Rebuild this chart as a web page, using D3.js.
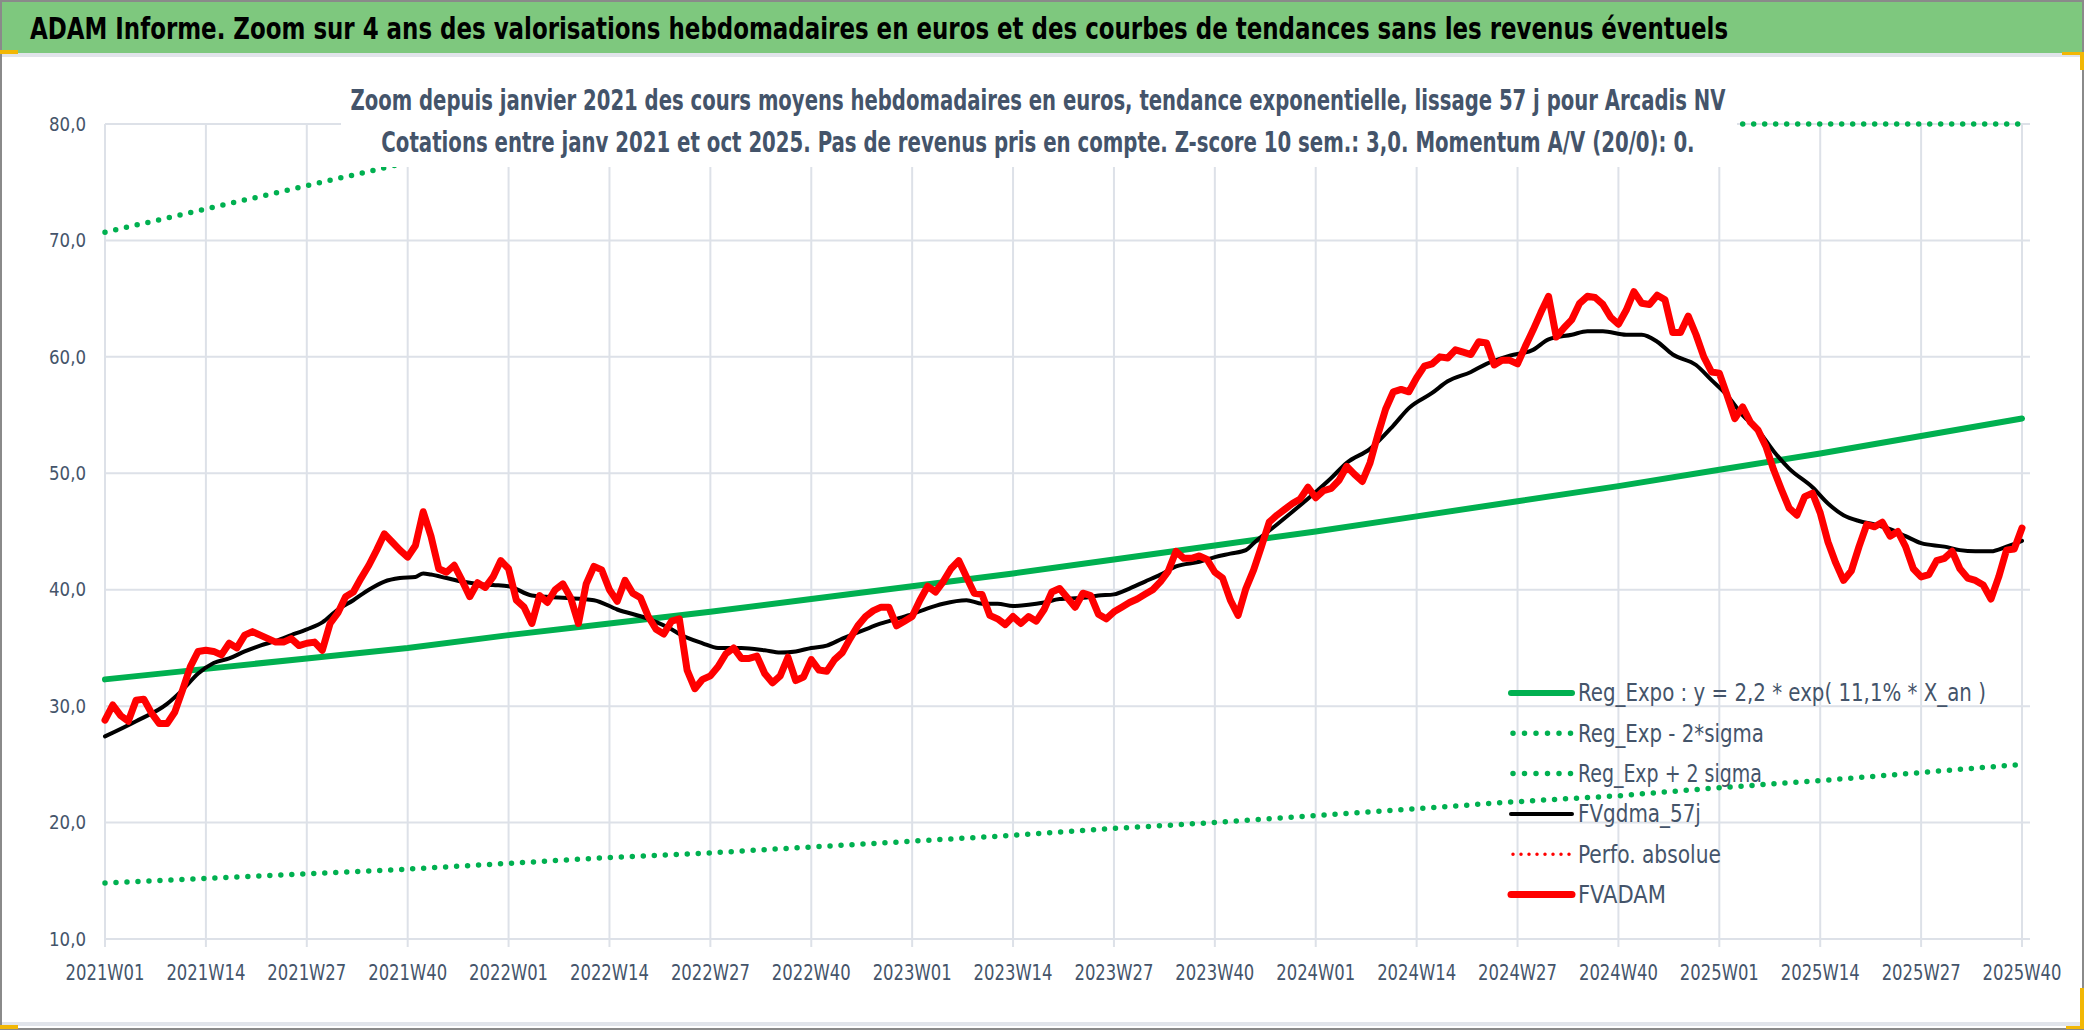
<!DOCTYPE html>
<html>
<head>
<meta charset="utf-8">
<script src="https://cdn.jsdelivr.net/npm/d3@7"></script>
<style>
	body { margin: 0; background: #fff; }
	svg text { font-family: "Liberation Sans Narrow", "DejaVu Sans Condensed", "Roboto", sans-serif; }
</style>
</head>
<body>
<svg id="chart" width="2086" height="1031"></svg>
<script>
// week index 0 = 2021W01, 247 = 2025W40
const tickWeeks = [0, 13, 26, 39, 52, 65, 78, 91, 104, 117, 130, 143, 156, 169, 182, 195, 208, 221, 234, 247];
const weekLabels = ["2021W01", "2021W14", "2021W27", "2021W40", "2022W01", "2022W14", "2022W27", "2022W40",
	"2023W01", "2023W14", "2023W27", "2023W40", "2024W01", "2024W14", "2024W27", "2024W40",
	"2025W01", "2025W14", "2025W27", "2025W40"];
const yTicks = [10, 20, 30, 40, 50, 60, 70, 80];

// FVADAM, weekly average price in euros
const fvadam = [
	28.8, 30.1, 29.2, 28.7, 30.5, 30.6, 29.4, 28.5, 28.5, 29.5, 31.4, 33.4, 34.7, 34.8, 34.7, 34.4,
	35.4, 35.0, 36.1, 36.4, 36.1, 35.8, 35.5, 35.5, 35.8, 35.2, 35.4, 35.5, 34.8, 37.1, 38.0, 39.4,
	39.8, 41.0, 42.1, 43.4, 44.8, 44.1, 43.4, 42.8, 43.8, 46.7, 44.6, 41.8, 41.5, 42.1, 40.8, 39.4,
	40.6, 40.2, 41.1, 42.5, 41.8, 39.1, 38.5, 37.1, 39.5, 38.9, 40.0, 40.5, 39.3, 37.1, 40.5, 42.0,
	41.7, 40.0, 39.0, 40.8, 39.7, 39.3, 37.7, 36.6, 36.2, 37.3, 37.5, 33.1, 31.5, 32.3, 32.6, 33.4,
	34.5, 35.0, 34.1, 34.1, 34.3, 32.8, 32.0, 32.6, 34.2, 32.2, 32.5, 34.0, 33.1, 33.0, 34.0, 34.6,
	35.8, 36.9, 37.7, 38.2, 38.5, 38.5, 36.9, 37.3, 37.7, 39.1, 40.3, 39.8, 40.7, 41.8, 42.5, 41.1,
	39.7, 39.6, 37.8, 37.5, 37.0, 37.7, 37.1, 37.7, 37.3, 38.3, 39.8, 40.1, 39.3, 38.5, 39.7, 39.5,
	37.9, 37.5, 38.1, 38.5, 38.9, 39.2, 39.6, 40.0, 40.7, 41.6, 43.3, 42.7, 42.7, 42.9, 42.6, 41.5,
	41.0, 39.1, 37.8, 40.1, 41.7, 43.7, 45.8, 46.4, 46.9, 47.4, 47.8, 48.8, 47.9, 48.5, 48.7, 49.4,
	50.6, 49.9, 49.3, 50.9, 53.3, 55.5, 57.0, 57.2, 57.0, 58.2, 59.2, 59.4, 60.0, 59.9, 60.6, 60.4,
	60.2, 61.3, 61.2, 59.3, 59.7, 59.7, 59.4, 60.9, 62.3, 63.8, 65.2, 61.7, 62.5, 63.2, 64.6, 65.2,
	65.1, 64.5, 63.4, 62.8, 64.0, 65.6, 64.6, 64.5, 65.3, 64.9, 62.1, 62.1, 63.5, 61.9, 60.0, 58.7,
	58.6, 56.7, 54.7, 55.7, 54.4, 53.7, 52.3, 50.3, 48.6, 47.0, 46.4, 48.0, 48.3, 46.6, 44.1, 42.3,
	40.8, 41.6, 43.7, 45.6, 45.4, 45.8, 44.6, 45.0, 43.7, 41.8, 41.1, 41.3, 42.5, 42.7, 43.3, 41.8,
	41.0, 40.8, 40.4, 39.2, 41.1, 43.4, 43.5, 45.3
];

// FVgdma_57j, smoothed curve read at these weeks
const smaWeeks = [0, 4, 8, 10, 12, 14, 16, 18, 20, 22, 24, 26, 28, 30, 32, 34, 36, 38, 40, 41, 42, 44, 46, 48, 50, 52,
	55, 59, 63, 66, 70, 73, 74, 77, 79, 82, 85, 87, 89, 91, 93, 95, 98, 100, 102, 104, 106, 108, 111, 113, 115,
	117, 119, 121, 123, 126, 128, 130, 132, 134, 136, 138, 141, 143, 145, 147, 148, 151, 153, 156, 158, 160, 163,
	166, 168, 171, 173, 176, 178, 181, 184, 186, 189, 191, 193, 196, 198, 200, 202, 205, 207, 209, 211, 213, 215,
	217, 220, 222, 224, 226, 228, 230, 232, 234, 237, 239, 241, 243, 245, 247];
const smaValues = [27.4, 28.7, 30.2, 31.4, 32.8, 33.7, 34.1, 34.7, 35.2, 35.6, 36.1, 36.6, 37.2, 38.3, 39.1, 40.0, 40.7,
	41.0, 41.1, 41.4, 41.3, 41.0, 40.7, 40.5, 40.4, 40.3, 39.5, 39.3, 39.1, 38.3, 37.5, 36.6, 36.2, 35.4, 35.0,
	35.0, 34.8, 34.6, 34.7, 35.0, 35.2, 35.8, 36.6, 37.1, 37.5, 37.9, 38.4, 38.8, 39.1, 38.8, 38.8, 38.6, 38.7,
	38.9, 39.2, 39.3, 39.5, 39.6, 40.1, 40.7, 41.3, 42.0, 42.4, 42.8, 43.1, 43.4, 44.0, 45.6, 46.7, 48.4, 49.6,
	50.9, 52.1, 54.1, 55.6, 56.9, 57.9, 58.7, 59.4, 60.1, 60.6, 61.5, 61.9, 62.2, 62.2, 61.9, 61.9, 61.3, 60.2,
	59.3, 58.0, 56.7, 55.0, 53.7, 51.9, 50.4, 48.8, 47.4, 46.4, 45.9, 45.6, 45.2, 44.6, 44.0, 43.7, 43.4, 43.3,
	43.3, 43.7, 44.2];

// exponential regression and +/- 2 sigma bands, read at the tick weeks
const regExpo = [32.3, 33.2, 34.1, 35.0, 36.1, 37.1, 38.1, 39.2, 40.3, 41.4, 42.6, 43.8, 45.0, 46.3, 47.6, 48.9, 50.3, 51.7, 53.2, 54.7];
const regLow = [14.8, 15.2, 15.6, 16.0, 16.5, 17.0, 17.4, 17.9, 18.4, 18.9, 19.5, 20.0, 20.6, 21.2, 21.8, 22.3, 23.0, 23.6, 24.3, 25.0];
const regHigh = [70.7, 72.7, 74.7, 76.7, 79.1, 81.2, 83.4, 85.8, 88.3, 90.7, 93.3, 95.9, 98.6, 101.4, 104.2, 107.1, 110.2, 113.2, 116.5, 119.8];

const legendLabels = ["Reg_Expo : y = 2,2 * exp( 11,1% *  X_an )", "Reg_Exp - 2*sigma", "Reg_Exp + 2 sigma",
	"FVgdma_57j", "Perfo. absolue", "FVADAM"];

const titleText = "ADAM Informe. Zoom sur 4 ans des valorisations hebdomadaires en euros et des courbes de tendances sans les revenus éventuels";
const subtitleLines = [
	"Zoom depuis janvier 2021 des cours moyens hebdomadaires en euros, tendance exponentielle, lissage 57 j pour Arcadis NV",
	"Cotations entre janv 2021 et oct 2025. Pas de revenus pris en compte. Z-score 10 sem.: 3,0. Momentum A/V (20/0): 0."
];

const svg = d3.select("#chart");
const plot = { left: 105, right: 2022, gridRight: 2030, top: 124, bottom: 939 };
const slate = "#44546A";
const grid = "#DDE1E8";

const x = d3.scaleLinear().domain([0, 247]).range([plot.left, plot.right]);
const y = d3.scaleLinear().domain([10, 80]).range([plot.bottom, plot.top]);
const yClamp = y.copy().clamp(true);
const frFormat = d3.formatLocale({ decimal: ",", thousands: " ", grouping: [3], currency: ["", " €"] }).format(".1f");

// narrow the text horizontally around its anchor, so it takes the width of the original
function squeeze(sel, width) {
	sel.each(function (d, i) {
		const w = typeof width === "function" ? width(d, i) : width;
		const natural = this.getComputedTextLength();
		if (!natural) return;
		const k = w / natural;
		const ax = +this.getAttribute("x");
		const ay = +this.getAttribute("y");
		this.setAttribute("transform", `translate(${ax},${ay}) scale(${k},1) translate(${-ax},${-ay})`);
	});
}

// frame and title band
svg.append("rect").attr("x", 0).attr("y", 0).attr("width", 2086).attr("height", 1031).attr("fill", "#fff");
svg.append("rect").attr("x", 0).attr("y", 0).attr("width", 2083).attr("height", 53).attr("fill", "#7EC87E");
svg.append("rect").attr("x", 0).attr("y", 53).attr("width", 2083).attr("height", 4).attr("fill", "#E1E4EA");
svg.append("rect").attr("x", 0).attr("y", 1022).attr("width", 2083).attr("height", 4).attr("fill", "#E1E4EA");
svg.append("rect")
	.attr("x", 1).attr("y", 1).attr("width", 2082).attr("height", 1028)
	.attr("fill", "none").attr("stroke", "#8A8A8A").attr("stroke-width", 2);
svg.append("text")
	.attr("x", 30).attr("y", 39)
	.attr("font-size", 30).attr("font-weight", "bold").attr("fill", "#000")
	.text(titleText)
	.call(squeeze, 1699);

// gridlines
svg.append("g").selectAll("line").data(yTicks).join("line")
	.attr("x1", plot.left).attr("x2", plot.gridRight)
	.attr("y1", (d) => y(d)).attr("y2", (d) => y(d))
	.attr("stroke", grid).attr("stroke-width", 2);
svg.append("g").selectAll("line").data(tickWeeks).join("line")
	.attr("x1", (d) => x(d)).attr("x2", (d) => x(d))
	.attr("y1", plot.top).attr("y2", plot.bottom + 8)
	.attr("stroke", grid).attr("stroke-width", 2);

// y axis labels
svg.append("g").selectAll("text").data(yTicks).join("text")
	.attr("x", 86).attr("y", (d) => y(d))
	.attr("text-anchor", "end").attr("dominant-baseline", "central")
	.attr("font-size", 20).attr("fill", slate)
	.text((d) => frFormat(d))
	.call(squeeze, 37);

// x axis labels
svg.append("g").selectAll("text").data(tickWeeks).join("text")
	.attr("x", (d) => x(d)).attr("y", 973)
	.attr("text-anchor", "middle").attr("dominant-baseline", "central")
	.attr("font-size", 21).attr("fill", slate)
	.text((d, i) => weekLabels[i])
	.call(squeeze, 79);

// series
const tickLine = d3.line().x((d, i) => x(tickWeeks[i])).y((d) => y(d));
const tickLineClamp = d3.line().x((d, i) => x(tickWeeks[i])).y((d) => yClamp(d));

svg.append("path").datum(regExpo)
	.attr("d", tickLine).attr("fill", "none")
	.attr("stroke", "#00B050").attr("stroke-width", 6).attr("stroke-linecap", "round");
svg.append("path").datum(regLow)
	.attr("d", tickLine).attr("fill", "none")
	.attr("stroke", "#00B050").attr("stroke-width", 5.5)
	.attr("stroke-dasharray", "0 11").attr("stroke-linecap", "round");
svg.append("path").datum(regHigh)
	.attr("d", tickLineClamp).attr("fill", "none")
	.attr("stroke", "#00B050").attr("stroke-width", 5.5)
	.attr("stroke-dasharray", "0 11").attr("stroke-linecap", "round");

svg.append("path").datum(smaValues)
	.attr("d", d3.line().x((d, i) => x(smaWeeks[i])).y((d) => y(d)).curve(d3.curveMonotoneX))
	.attr("fill", "none").attr("stroke", "#000").attr("stroke-width", 4)
	.attr("stroke-linejoin", "round").attr("stroke-linecap", "round");

svg.append("path").datum(fvadam)
	.attr("d", d3.line().x((d, i) => x(i)).y((d) => y(d)))
	.attr("fill", "none").attr("stroke", "#FF0000").attr("stroke-width", 7)
	.attr("stroke-linejoin", "round").attr("stroke-linecap", "round");

// subtitle box (hides what lies behind it, as in the original)
svg.append("rect").attr("x", 341).attr("y", 60).attr("width", 1396).attr("height", 107).attr("fill", "#fff");
svg.append("g").selectAll("text").data(subtitleLines).join("text")
	.attr("x", 1038).attr("y", (d, i) => 110 + i * 42)
	.attr("text-anchor", "middle")
	.attr("font-size", 29).attr("font-weight", "bold").attr("fill", slate)
	.text((d) => d)
	.call(squeeze, (d, i) => [1376, 1314][i]);

// legend
const legendStyles = [
	{ color: "#00B050", width: 6, dash: null },
	{ color: "#00B050", width: 5.5, dash: "0 11.5" },
	{ color: "#00B050", width: 5.5, dash: "0 11.5" },
	{ color: "#000", width: 4, dash: null },
	{ color: "#FF0000", width: 3.5, dash: "0 8" },
	{ color: "#FF0000", width: 7, dash: null },
];
const legendWidths = [408, 186, 184, 123, 143, 88];
const legend = svg.append("g").selectAll("g").data(legendLabels).join("g")
	.attr("transform", (d, i) => `translate(1511, ${693 + i * 40.3})`);
legend.append("line")
	.attr("x1", (d, i) => (legendStyles[i].dash ? 2 : 0)).attr("x2", 61)
	.attr("y1", 0).attr("y2", 0)
	.attr("stroke", (d, i) => legendStyles[i].color)
	.attr("stroke-width", (d, i) => legendStyles[i].width)
	.attr("stroke-dasharray", (d, i) => legendStyles[i].dash)
	.attr("stroke-linecap", "round");
legend.append("text")
	.attr("x", 67).attr("y", 0).attr("dominant-baseline", "central")
	.attr("font-size", 25).attr("fill", slate)
	.text((d) => d)
	.call(squeeze, (d, i) => legendWidths[i]);

// selection handles left by the spreadsheet
svg.append("rect").attr("x", 0).attr("y", 50).attr("width", 18).attr("height", 4).attr("fill", "#F2B705");
svg.append("rect").attr("x", 0).attr("y", 1025).attr("width", 18).attr("height", 4).attr("fill", "#F2B705");
svg.append("rect").attr("x", 2062).attr("y", 52).attr("width", 22).attr("height", 3).attr("fill", "#F2B705");
svg.append("rect").attr("x", 2080).attr("y", 52).attr("width", 4).attr("height", 18).attr("fill", "#F2B705");
svg.append("rect").attr("x", 2080).attr("y", 988).attr("width", 4).attr("height", 41).attr("fill", "#F2B705");
svg.append("rect").attr("x", 2066).attr("y", 1026).attr("width", 18).attr("height", 3).attr("fill", "#F2B705");
</script>
</body>
</html>
